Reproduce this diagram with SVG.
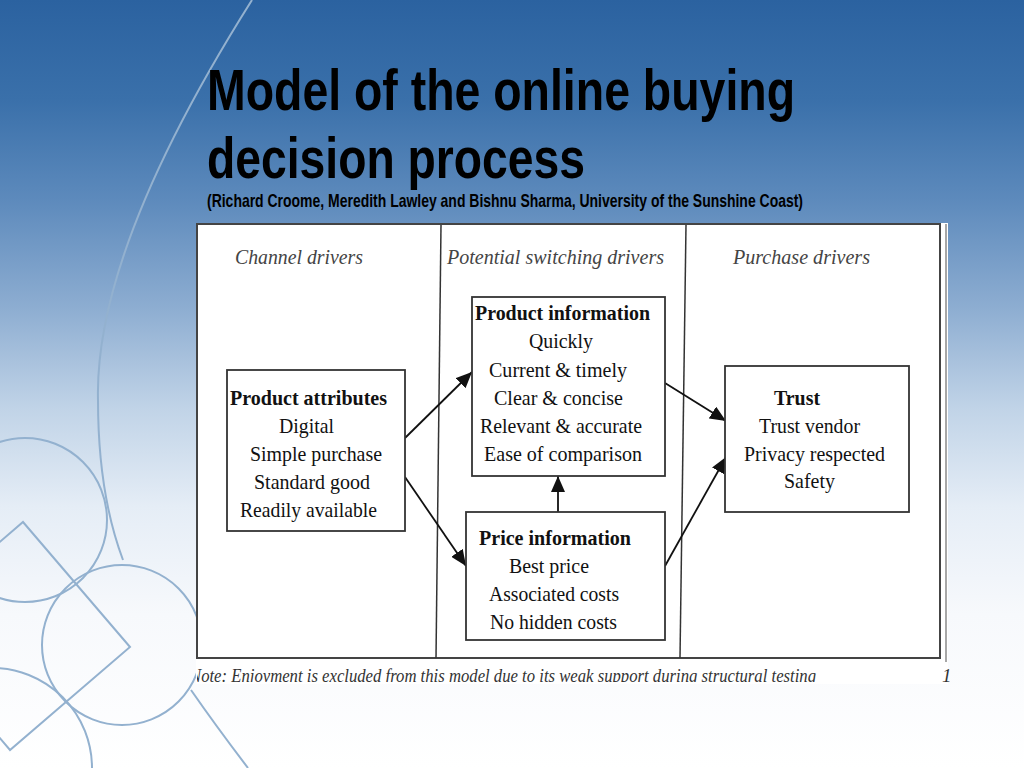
<svg xmlns="http://www.w3.org/2000/svg" width="1024" height="768" viewBox="0 0 1024 768">
<defs>
<linearGradient id="bg" x1="0" y1="0" x2="0" y2="1">
<stop offset="0" stop-color="#2b62a0"/>
<stop offset="0.13" stop-color="#3a70aa"/>
<stop offset="0.26" stop-color="#5d8abc"/>
<stop offset="0.4" stop-color="#8dadd1"/>
<stop offset="0.53" stop-color="#c0d3e7"/>
<stop offset="0.66" stop-color="#e5edf6"/>
<stop offset="0.8" stop-color="#f7f9fc"/>
<stop offset="1" stop-color="#ffffff"/>
</linearGradient>
<marker id="ah" markerUnits="userSpaceOnUse" markerWidth="18" markerHeight="14" refX="16" refY="7" orient="auto">
<path d="M0,0 L16,7 L0,14 Z" fill="#111"/>
</marker>
<clipPath id="noteclip"><rect x="197" y="660" width="760" height="22"/></clipPath>
<style>
.deco{fill:none;stroke:#93b1cf;stroke-width:2}
.title{font-family:"Liberation Sans Narrow","Liberation Sans",Arial,sans-serif;font-weight:bold;fill:#000}
.box{fill:#fff;stroke:#333;stroke-width:1.8}
.t{font-family:"Liberation Serif","Times New Roman",serif;font-size:22px;fill:#111}
.b{font-weight:bold}
.hdr{font-family:"Liberation Serif","Times New Roman",serif;font-size:21px;font-style:italic;fill:#444}
.conn{stroke:#111;stroke-width:1.8;fill:none;marker-end:url(#ah)}
.note{font-family:"Liberation Serif","Times New Roman",serif;font-size:19px;font-style:italic;fill:#333}
</style>
</defs>

<rect x="0" y="0" width="1024" height="768" fill="url(#bg)"/>

<g id="decoration">
<path class="deco" d="M252,0 C170,130 95,280 98,400 C98,470 108,520 123,560"/>
<path class="deco" d="M191,690 Q216,726 248,768"/>
<circle class="deco" cx="25" cy="520" r="82"/>
<circle class="deco" cx="122" cy="645" r="80"/>
<circle class="deco" cx="-8" cy="768" r="100"/>
<polygon class="deco" points="23,522 130,647 10,750 -97,625"/>
</g>

<g id="title">
<text class="title" x="207" y="110" font-size="58" textLength="588" lengthAdjust="spacingAndGlyphs">Model of the online buying</text>
<text class="title" x="207" y="178" font-size="58" textLength="378" lengthAdjust="spacingAndGlyphs">decision process</text>
<text class="title" x="207" y="207" font-size="19" textLength="596" lengthAdjust="spacingAndGlyphs">(Richard Croome, Meredith Lawley and Bishnu Sharma, University of the Sunshine Coast)</text>
</g>

<g id="frame">
<rect x="196" y="223" width="752" height="461" fill="#fff"/>
<rect x="197" y="224" width="743" height="434" fill="none" stroke="#444" stroke-width="2"/>
<line x1="946" y1="224" x2="946" y2="662" stroke="#8a8a8a" stroke-width="1.5"/>
<line x1="441" y1="225" x2="436" y2="658" stroke="#333" stroke-width="1.5"/>
<line x1="686" y1="225" x2="680" y2="658" stroke="#333" stroke-width="1.5"/>
</g>

<g id="headers">
<text class="hdr" x="235" y="264" textLength="128" lengthAdjust="spacingAndGlyphs">Channel drivers</text>
<text class="hdr" x="447" y="264" textLength="217" lengthAdjust="spacingAndGlyphs">Potential switching drivers</text>
<text class="hdr" x="733" y="264" textLength="137" lengthAdjust="spacingAndGlyphs">Purchase drivers</text>
</g>

<g id="connectors">
<line class="conn" x1="405" y1="438" x2="472" y2="372"/>
<line class="conn" x1="405" y1="477" x2="466" y2="566"/>
<line class="conn" x1="558" y1="512" x2="558" y2="476"/>
<line class="conn" x1="665" y1="383" x2="726" y2="421"/>
<line class="conn" x1="665" y1="566" x2="726" y2="457"/>
</g>

<g id="product-attributes">
<rect class="box" x="227" y="370" width="178" height="161"/>
<text class="t b" x="230" y="405" textLength="157" lengthAdjust="spacingAndGlyphs">Product attributes</text>
<text class="t" x="279" y="433" textLength="55" lengthAdjust="spacingAndGlyphs">Digital</text>
<text class="t" x="250" y="461" textLength="132" lengthAdjust="spacingAndGlyphs">Simple purchase</text>
<text class="t" x="254" y="489" textLength="116" lengthAdjust="spacingAndGlyphs">Standard good</text>
<text class="t" x="240" y="517" textLength="137" lengthAdjust="spacingAndGlyphs">Readily available</text>
</g>

<g id="product-information">
<rect class="box" x="472" y="297" width="193" height="179"/>
<text class="t b" x="475" y="320" textLength="175" lengthAdjust="spacingAndGlyphs">Product information</text>
<text class="t" x="529" y="348" textLength="64" lengthAdjust="spacingAndGlyphs">Quickly</text>
<text class="t" x="489" y="377" textLength="138" lengthAdjust="spacingAndGlyphs">Current &amp; timely</text>
<text class="t" x="494" y="405" textLength="129" lengthAdjust="spacingAndGlyphs">Clear &amp; concise</text>
<text class="t" x="480" y="433" textLength="162" lengthAdjust="spacingAndGlyphs">Relevant &amp; accurate</text>
<text class="t" x="484" y="461" textLength="158" lengthAdjust="spacingAndGlyphs">Ease of comparison</text>
</g>

<g id="price-information">
<rect class="box" x="466" y="512" width="199" height="128"/>
<text class="t b" x="479" y="545" textLength="152" lengthAdjust="spacingAndGlyphs">Price information</text>
<text class="t" x="509" y="573" textLength="80" lengthAdjust="spacingAndGlyphs">Best price</text>
<text class="t" x="489" y="601" textLength="130" lengthAdjust="spacingAndGlyphs">Associated costs</text>
<text class="t" x="490" y="629" textLength="127" lengthAdjust="spacingAndGlyphs">No hidden costs</text>
</g>

<g id="trust">
<rect class="box" x="725" y="366" width="184" height="146"/>
<text class="t b" x="774" y="405" textLength="46" lengthAdjust="spacingAndGlyphs">Trust</text>
<text class="t" x="759" y="433" textLength="101" lengthAdjust="spacingAndGlyphs">Trust vendor</text>
<text class="t" x="744" y="461" textLength="141" lengthAdjust="spacingAndGlyphs">Privacy respected</text>
<text class="t" x="784" y="488" textLength="51" lengthAdjust="spacingAndGlyphs">Safety</text>
</g>

<g id="note" clip-path="url(#noteclip)">
<text class="note" x="190" y="682" textLength="626" lengthAdjust="spacingAndGlyphs">Note: Enjoyment is excluded from this model due to its weak support during structural testing</text>
<text class="note" x="942" y="682">1</text>
</g>
</svg>
